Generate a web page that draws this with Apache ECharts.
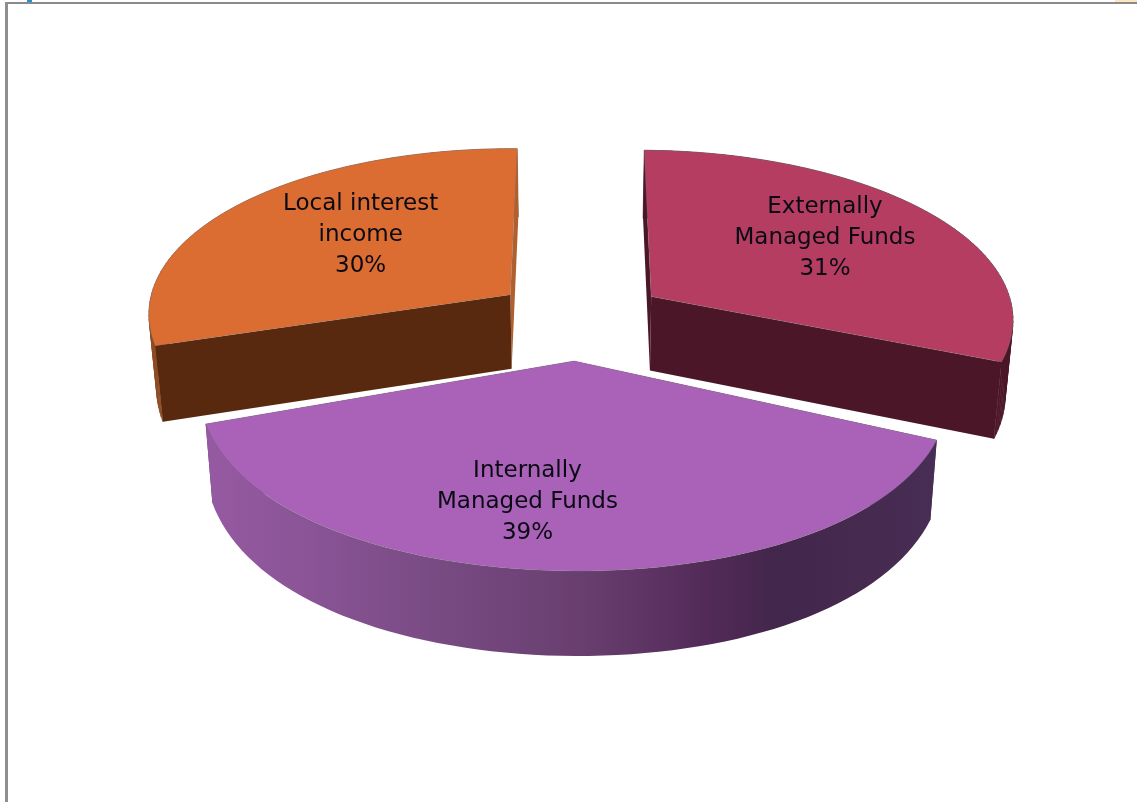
<!DOCTYPE html>
<html>
<head>
<meta charset="utf-8">
<title>Funding sources</title>
<style>
  html, body { margin: 0; padding: 0; background: #fff; }
  #chart { width: 1137px; height: 802px; }
</style>
<script src="https://cdn.jsdelivr.net/npm/echarts@6/dist/echarts.min.js"></script>
</head>
<body>
<div id="chart"></div>
<script>
// Slice order runs clockwise from twelve o'clock.
const categories = ['Externally\nManaged Funds', 'Internally\nManaged Funds', 'Local interest\nincome'];
const shares = [31, 39, 30];

const topColors = ['#B53D62', '#A962B8', '#DB6C32'];
const wallColors = ['#4B1728', '#4A2C55', '#58290F'];
const rimColors = ['#4B1728', null, '#8E4C24'];
const innerBackColors = ['#4B1728', '#4A2C55', '#B0602F'];

// Tilted-disc projection: plane units are pie radii, depth grows towards the viewer.
// Past frontFrom the depth scale runs straight, which keeps the near rim full.
const view = {
  cx: 580, cy: 318.7, rx: 364, ry: 170.7, perspX: 0.11, perspY: 0.13, shear: 2, explode: 0.24,
  frontFrom: 0.24, frontRy: 210,
  wallBase: 74, wallGrow: 0.04, wallShrink: 0.982
};
const sliceLayout = [
  { shiftX: 0, reach: 0.58, labelDx: 10, labelDy: -8 },
  { shiftX: -3, reach: 0.74, labelDx: -40, labelDy: -14 },
  { shiftX: 0, reach: 0.55, labelDx: 2, labelDy: -8 }
];

function depthOffset(py) {
  const curved = d => view.ry * d / (1 - view.perspY * d);
  return py > view.frontFrom
    ? curved(view.frontFrom) + view.frontRy * (py - view.frontFrom)
    : curved(py);
}
function project(px, py) {
  const wx = 1 / (1 - view.perspX * py);
  return [view.cx + view.rx * px * wx, view.cy + depthOffset(py) + view.shear * px];
}
function drop(p) {
  return [
    view.cx + (p[0] - view.cx) * view.wallShrink,
    p[1] + view.wallBase + view.wallGrow * (p[1] - 295)
  ];
}

const total = shares.reduce((a, b) => a + b, 0);
function sliceAngles(i) {
  const before = shares.slice(0, i).reduce((a, b) => a + b, 0);
  const start = -Math.PI / 2 + before / total * Math.PI * 2;
  return [start, start + shares[i] / total * Math.PI * 2];
}

function renderSlice(params, api) {
  const i = params.dataIndex;
  const share = api.value(0);
  const layout = sliceLayout[i];
  const [a0, a1] = sliceAngles(i);
  const mid = (a0 + a1) / 2;
  const ox = Math.cos(mid) * view.explode;
  const oy = Math.sin(mid) * view.explode;
  const shifted = p => [p[0] + layout.shiftX, p[1]];
  const apex = shifted(project(ox, oy));
  const rim = [];
  const steps = 72;
  for (let k = 0; k <= steps; k++) {
    const a = a0 + (a1 - a0) * k / steps;
    rim.push(shifted(project(ox + Math.cos(a), oy + Math.sin(a))));
  }
  const rimLow = rim.map(drop);
  const apexLow = drop(apex);
  const first = rim[0], last = rim[steps];
  const face = (pts, style) => ({ type: 'polygon', shape: { points: pts }, style });

  // The front slice's curved wall is one simple band with a shaded fill. The rear
  // slices use quads, since their walls' top and bottom edges cross on screen.
  const rimWall = [];
  if (i === 1) {
    const shade = new echarts.graphic.LinearGradient(204, 0, 937, 0, [
      { offset: 0, color: '#965AA2' },
      { offset: 0.12, color: '#8C5598' },
      { offset: 0.33, color: '#774A82' },
      { offset: 0.52, color: '#683E6E' },
      { offset: 0.68, color: '#532B59' },
      { offset: 0.78, color: '#43264B' },
      { offset: 1, color: '#482D54' }
    ], true);
    rimWall.push(face(rim.concat(rimLow.slice().reverse()), { fill: shade }));
  } else {
    for (let k = 0; k < steps; k++) {
      rimWall.push(face([rim[k], rim[k + 1], rimLow[k + 1], rimLow[k]], { fill: rimColors[i], stroke: rimColors[i], lineWidth: 0.6 }));
    }
  }

  // Which cut edge faces the viewer depends on where the slice sits around the disc.
  const frontEdge = i === 0 ? last : first;
  const backEdge = i === 0 ? first : last;
  const backWall = face([apex, backEdge, drop(backEdge), apexLow], { fill: innerBackColors[i] });
  const frontWall = face([apex, frontEdge, drop(frontEdge), apexLow], { fill: wallColors[i] });
  const topFace = face([apex].concat(rim), { fill: topColors[i], stroke: 'rgba(125,125,125,0.45)', lineWidth: 0.7 });

  // The front slice wraps its rim around both cut edges, so the rim goes on last.
  const children = i === 1
    ? [backWall, frontWall, ...rimWall, topFace]
    : [...rimWall, backWall, frontWall, topFace];

  const anchor = project(ox + Math.cos(mid) * layout.reach, oy + Math.sin(mid) * layout.reach);
  children.push({
    type: 'text',
    x: anchor[0] + layout.labelDx,
    y: anchor[1] + layout.labelDy,
    style: {
      text: categories[i] + '\n' + share + '%',
      fill: '#0a0a14',
      font: '23px "DejaVu Sans"',
      lineHeight: 31,
      align: 'center',
      verticalAlign: 'middle'
    }
  });
  return { type: 'group', children };
}

const chart = echarts.init(document.getElementById('chart'), null, { renderer: 'canvas' });
chart.setOption({
  backgroundColor: '#ffffff',
  animation: false,
  graphic: [
    { type: 'rect', shape: { x: 5, y: 2, width: 1132, height: 2 }, style: { fill: '#8a8a8a' }, silent: true },
    { type: 'rect', shape: { x: 5, y: 2, width: 3, height: 800 }, style: { fill: '#8f8f8f' }, silent: true },
    { type: 'rect', shape: { x: 27, y: 0, width: 5, height: 2 }, style: { fill: '#2a8fd0' }, silent: true },
    { type: 'rect', shape: { x: 1115, y: 0, width: 22, height: 2 }, style: { fill: '#fbe6bd' }, silent: true }
  ],
  series: [{
    type: 'custom',
    coordinateSystem: 'none',
    renderItem: renderSlice,
    data: shares.map(v => [v])
  }]
});
</script>
</body>
</html>
